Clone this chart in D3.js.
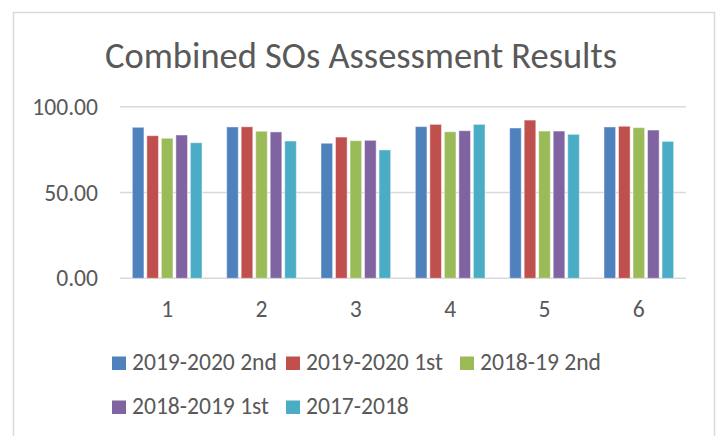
<!DOCTYPE html>
<html>
<head>
<meta charset="utf-8">
<script src="https://cdn.jsdelivr.net/npm/d3@7"></script>
<style>
  html, body { margin: 0; padding: 0; background: #fff; }
  svg { display: block; }
  text { font-family: Carlito, Calibri, Lato, "Open Sans", sans-serif; fill: #595959; }
</style>
</head>
<body>
<svg id="chart" width="717" height="436"></svg>
<script>
const title = "Combined SOs Assessment Results";
const categories = ["1", "2", "3", "4", "5", "6"];
const seriesNames = ["2019-2020 2nd", "2019-2020 1st", "2018-19 2nd", "2018-2019 1st", "2017-2018"];
const seriesColors = ["#4F81BD", "#C0504D", "#9BBB59", "#8064A2", "#4BACC6"];
const s2019_2020_2nd = [88.0, 88.2, 78.7, 88.4, 87.6, 88.2];
const s2019_2020_1st = [83.1, 88.3, 82.3, 89.7, 92.2, 88.6];
const s2018_19_2nd   = [81.6, 85.7, 80.2, 85.4, 85.8, 87.8];
const s2018_2019_1st = [83.5, 85.3, 80.4, 86.0, 85.8, 86.4];
const s2017_2018     = [79.0, 80.0, 74.8, 89.7, 83.9, 79.8];
const yTicks = [0, 50, 100];

const seriesValues = [s2019_2020_2nd, s2019_2020_1st, s2018_19_2nd, s2018_2019_1st, s2017_2018];

const svg = d3.select("#chart");

// chart border
svg.append("rect")
  .attr("x", 13.5).attr("y", 12.5)
  .attr("width", 701).attr("height", 460)
  .attr("fill", "#fff").attr("stroke", "#d9d9d9").attr("stroke-width", 1.5);

const plot = { left: 120, right: 686, top: 106.7, bottom: 278.3 };

const x0 = d3.scaleBand().domain(categories).range([plot.left, plot.right]).padding(0);
const x1 = d3.scaleBand().domain(seriesNames).range([0, x0.bandwidth()])
  .paddingInner(0.2).paddingOuter(0.85);
const y = d3.scaleLinear().domain([0, 100]).range([plot.bottom, plot.top]);

// helper: fit font size so a reference string has target width
function fitSize(sample, targetW, probe = 100) {
  const t = svg.append("text").attr("font-size", probe).text(sample);
  const w = t.node().getComputedTextLength();
  t.remove();
  return probe * targetW / w;
}
const smallSize = fitSize("2019-2020 2nd", 145);
const titleSize = fitSize(title, 512);

// gridlines
svg.append("g")
  .selectAll("line").data(yTicks).join("line")
  .attr("x1", plot.left).attr("x2", plot.right)
  .attr("y1", d => y(d)).attr("y2", d => y(d))
  .attr("stroke", "#d9d9d9").attr("stroke-width", 1.5);

// y axis labels
const yAxis = d3.axisLeft(y).tickValues(yTicks).tickFormat(d3.format(".2f")).tickSize(0).tickPadding(22);
const yg = svg.append("g").attr("transform", `translate(${plot.left},0)`).call(yAxis);
yg.select(".domain").remove();
yg.selectAll("text").attr("font-size", smallSize).attr("fill", "#595959")
  .style("font-family", "Carlito, Calibri, Lato, 'Open Sans', sans-serif");

// x axis labels
const xAxis = d3.axisBottom(x0).tickSize(0).tickPadding(0);
const xg = svg.append("g").attr("transform", `translate(0,${plot.bottom})`).call(xAxis);
xg.select(".domain").remove();
xg.selectAll("text").attr("font-size", smallSize).attr("fill", "#595959")
  .attr("dy", null).attr("y", 38.5)
  .style("font-family", "Carlito, Calibri, Lato, 'Open Sans', sans-serif");

// bars
const groups = svg.append("g").selectAll("g").data(categories).join("g")
  .attr("transform", d => `translate(${x0(d)},0)`);
groups.selectAll("rect")
  .data((c, ci) => seriesNames.map((s, si) => ({ s, si, v: seriesValues[si][ci] })))
  .join("rect")
  .attr("x", d => x1(d.s))
  .attr("width", x1.bandwidth())
  .attr("y", d => y(d.v))
  .attr("height", d => y(0) - y(d.v))
  .attr("fill", d => seriesColors[d.si])
  .attr("stroke", "#fff").attr("stroke-opacity", 0.45).attr("stroke-width", 1);

// title
svg.append("text")
  .attr("x", 361).attr("y", 68)
  .attr("text-anchor", "middle")
  .attr("font-size", titleSize)
  .text(title);

// legend: 3 columns
const legX = [112, 286, 460];
const legRowBase = [370, 414];
const leg = svg.append("g").selectAll("g").data(seriesNames).join("g")
  .attr("transform", (d, i) => `translate(${legX[i % 3]},${legRowBase[Math.floor(i / 3)]})`);
leg.append("rect")
  .attr("x", 0).attr("y", -13.5).attr("width", 14).attr("height", 13.5)
  .attr("fill", (d, i) => seriesColors[i]);
leg.append("text")
  .attr("x", 20).attr("y", 0)
  .attr("font-size", smallSize)
  .text(d => d);
</script>
</body>
</html>
